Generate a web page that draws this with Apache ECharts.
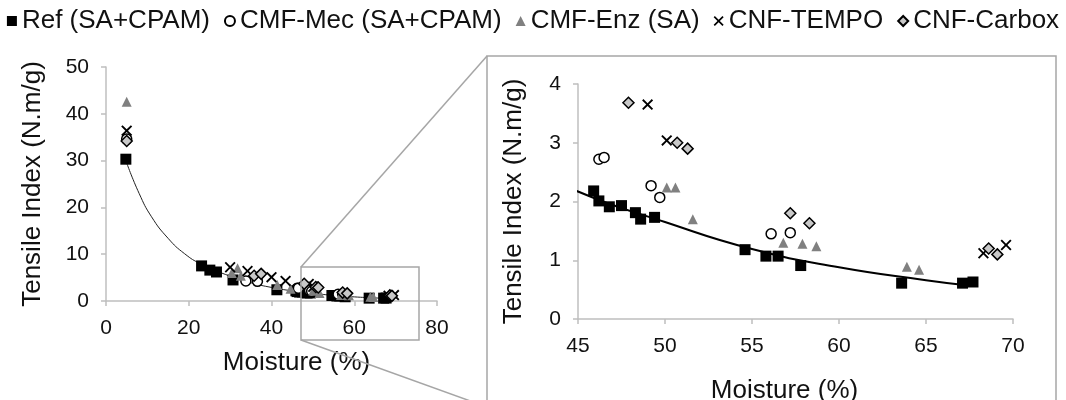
<!DOCTYPE html>
<html>
<head>
<meta charset="utf-8">
<script src="https://cdn.jsdelivr.net/npm/echarts@6/dist/echarts.min.js"></script>
<style>
  html, body { margin: 0; padding: 0; background: #fff; }
  #chart { width: 1066px; height: 400px; }
</style>
</head>
<body>
<div id="chart"></div>
<script>
// values
const refX = [4.8, 23.1, 25.1, 26.7, 30.7, 41.3, 45.9, 46.2, 46.8, 47.5, 48.3, 48.6, 49.4, 54.6, 55.8, 56.5, 57.8, 63.6, 67.1, 67.7];
const refY = [30.3, 7.5, 6.6, 6.2, 4.5, 2.4, 2.18, 2.01, 1.91, 1.93, 1.81, 1.70, 1.73, 1.18, 1.07, 1.07, 0.91, 0.61, 0.61, 0.63];

const mecX = [5.0, 33.8, 36.6, 46.2, 46.5, 49.2, 49.7, 56.1, 57.2];
const mecY = [34.6, 4.3, 4.2, 2.72, 2.75, 2.27, 2.07, 1.45, 1.47];

const enzX = [5.0, 30.4, 31.8, 32.6, 41.4, 44.6, 50.1, 50.6, 51.6, 56.8, 57.9, 58.7, 63.9, 64.6];
const enzY = [42.6, 6.0, 7.0, 5.4, 3.4, 2.6, 2.24, 2.24, 1.70, 1.30, 1.28, 1.24, 0.89, 0.84];

const tempoX = [5.0, 30.0, 34.2, 40.0, 43.4, 49.0, 50.1, 68.3, 69.6];
const tempoY = [36.4, 7.2, 6.4, 5.1, 4.3, 3.65, 3.04, 1.12, 1.26];

const carbX = [5.0, 35.8, 37.5, 47.9, 50.7, 51.3, 57.2, 58.3, 68.6, 69.1];
const carbY = [34.2, 5.4, 5.8, 3.68, 3.00, 2.90, 1.80, 1.63, 1.20, 1.10];

// fitted curve as it is drawn
const trendX = [5, 8, 11, 15, 19, 23, 30, 35, 40, 45, 50, 55, 60, 65, 67.7];
const trendY = [29.5, 23.0, 18.0, 13.4, 10.1, 7.9, 5.3, 3.9, 2.9, 2.17, 1.65, 1.19, 0.88, 0.66, 0.56];

const leftTicks = [0, 20, 40, 60, 80];
const zoomTicks = [45, 50, 55, 60, 65, 70];

const zip = (xs, ys) => xs.map((x, i) => [x, ys[i]]);
const font = 'Liberation Sans, Arial, sans-serif';
const crossPath = 'path://M0,1.2L1.2,0L5,3.8L8.8,0L10,1.2L6.2,5L10,8.8L8.8,10L5,6.2L1.2,10L0,8.8L3.8,5Z';

const groups = [
  { name: 'Ref (SA+CPAM)', x: refX, y: refY, symbol: 'rect', size: 11, style: { color: '#000', opacity: 1 } },
  { name: 'CMF-Mec (SA+CPAM)', x: mecX, y: mecY, symbol: 'circle', size: 10, style: { color: '#fff', borderColor: '#000', borderWidth: 1.5, opacity: 1 } },
  { name: 'CMF-Enz (SA)', x: enzX, y: enzY, symbol: 'triangle', size: 10, style: { color: '#808080', opacity: 1 } },
  { name: 'CNF-TEMPO', x: tempoX, y: tempoY, symbol: crossPath, size: 11, style: { color: '#000', opacity: 1 } },
  { name: 'CNF-Carbox', x: carbX, y: carbY, symbol: 'diamond', size: 11, style: { color: '#c8c8c8', borderColor: '#000', borderWidth: 1.5, opacity: 1 } }
];

const axisCommon = {
  splitLine: { show: false },
  axisLine: { lineStyle: { color: '#bfbfbf', width: 1.5 } },
  axisTick: { show: true, inside: false, length: 5, lineStyle: { color: '#bfbfbf', width: 1.5 } },
  axisLabel: { color: '#111', fontSize: 21, fontFamily: font, margin: 17 },
  nameLocation: 'middle',
  nameTextStyle: { color: '#111', fontSize: 26, fontFamily: font }
};

const series = [];
groups.forEach(g => {
  [0, 1].forEach(idx => {
    series.push({
      type: 'scatter',
      name: g.name,
      xAxisIndex: idx,
      yAxisIndex: idx,
      symbol: g.symbol,
      symbolSize: g.size,
      itemStyle: g.style,
      clip: true,
      z: 3,
      data: zip(g.x, g.y)
    });
  });
});
series.push({
  type: 'line', name: 'trend', xAxisIndex: 0, yAxisIndex: 0, smooth: true,
  symbol: 'none', clip: true, z: 2, lineStyle: { color: '#222', width: 1 }, data: zip(trendX, trendY)
});
series.push({
  type: 'line', name: 'trend', xAxisIndex: 1, yAxisIndex: 1, smooth: true,
  symbol: 'none', clip: true, z: 2, lineStyle: { color: '#000', width: 2 }, data: zip(trendX, trendY)
});

const myChart = echarts.init(document.getElementById('chart'), null, { renderer: 'canvas' });
const option = {
  backgroundColor: '#fff',
  animation: false,
  legend: {
    data: groups.map(g => g.name),
    top: 3,
    left: 'center',
    itemWidth: 10,
    itemHeight: 10,
    itemGap: 14,
    textStyle: { color: '#111', fontSize: 26, fontFamily: font }
  },
  grid: [
    { left: 106, top: 67, width: 331, height: 234, outerBoundsMode: 'none' },
    { left: 578, top: 84, width: 435, height: 235, outerBoundsMode: 'none' }
  ],
  xAxis: [
    { ...axisCommon, type: 'value', gridIndex: 0, min: leftTicks[0], max: leftTicks[leftTicks.length - 1], interval: 20,
      name: 'Moisture (%)', nameGap: 49,
      nameTextStyle: { ...axisCommon.nameTextStyle, padding: [0, 0, 0, 50] } },
    { ...axisCommon, type: 'value', gridIndex: 1, min: zoomTicks[0], max: zoomTicks[zoomTicks.length - 1], interval: 5,
      name: 'Moisture (%)', nameGap: 59,
      nameTextStyle: { ...axisCommon.nameTextStyle, padding: [0, 22, 0, 0] } }
  ],
  yAxis: [
    { ...axisCommon, type: 'value', gridIndex: 0, min: 0, max: 50, interval: 10,
      name: 'Tensile Index (N.m/g)', nameGap: 60 },
    { ...axisCommon, type: 'value', gridIndex: 1, min: 0, max: 4, interval: 1,
      name: 'Tensile Index (N.m/g)', nameGap: 51 }
  ],
  graphic: [
    // zoom frame on the small chart
    { type: 'rect', shape: { x: 301, y: 267, width: 118, height: 73 }, style: { fill: 'none', stroke: '#a6a6a6', lineWidth: 1.5 }, z: 10 },
    // frame round the zoomed chart
    { type: 'rect', shape: { x: 487, y: 56, width: 569, height: 400 }, style: { fill: 'none', stroke: '#a6a6a6', lineWidth: 1.5 }, z: 10 },
    { type: 'line', shape: { x1: 301, y1: 267, x2: 487, y2: 56 }, style: { stroke: '#a6a6a6', lineWidth: 1.5 }, z: 10 },
    { type: 'line', shape: { x1: 301, y1: 340, x2: 487, y2: 407 }, style: { stroke: '#a6a6a6', lineWidth: 1.5 }, z: 10 }
  ],
  series: series
};
myChart.setOption(option);
</script>
</body>
</html>
